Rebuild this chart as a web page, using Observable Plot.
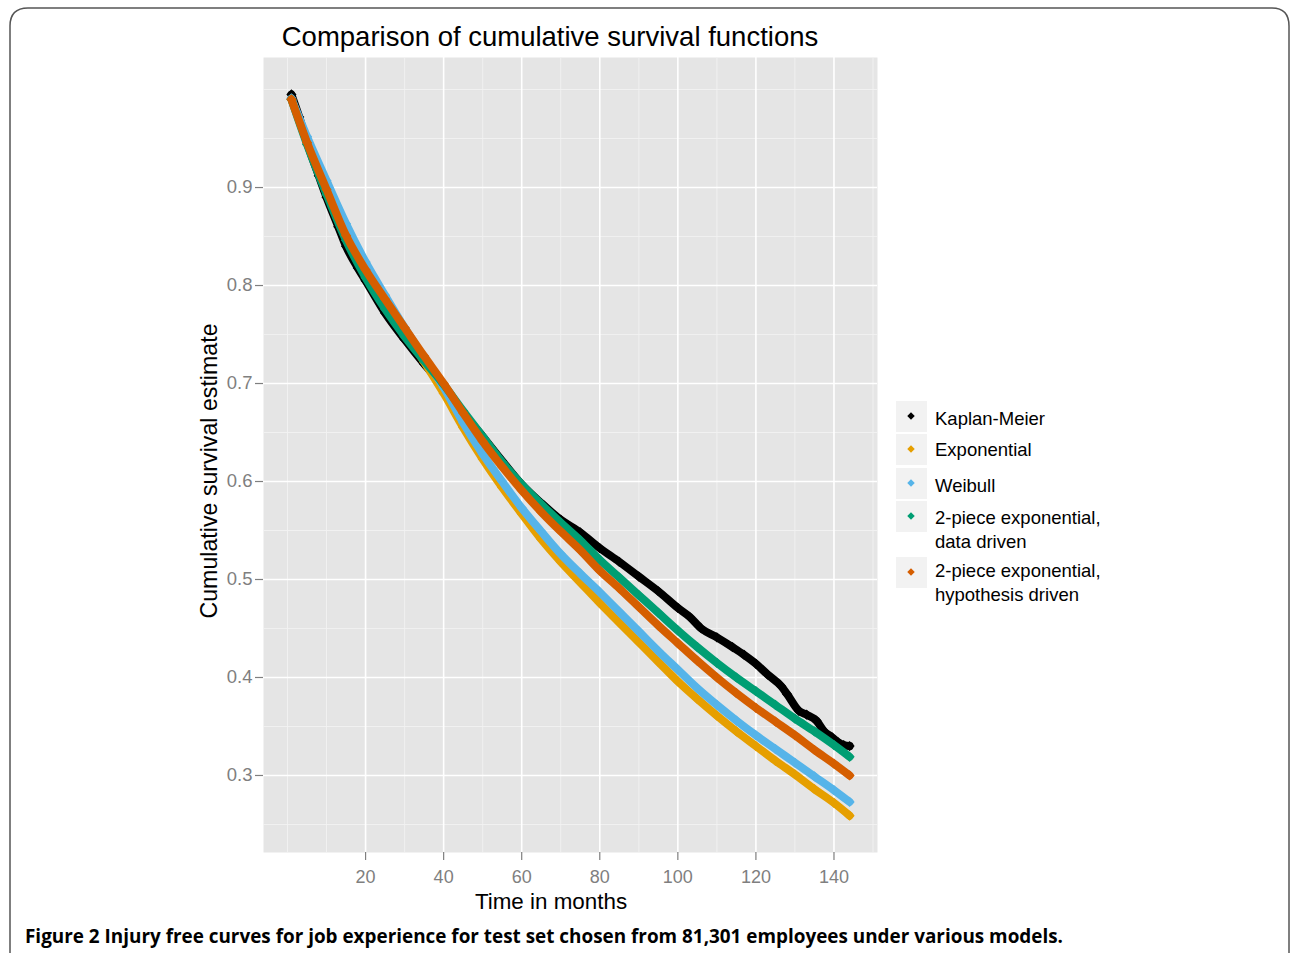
<!DOCTYPE html>
<html>
<head>
<meta charset="utf-8">
<script src="https://cdn.jsdelivr.net/npm/d3@7"></script>
<script src="https://cdn.jsdelivr.net/npm/@observablehq/plot@0.6"></script>
<style>
  html, body { margin: 0; padding: 0; background: #fff; }
  svg { display: block; }
</style>
</head>
<body>
<div id="chart"></div>
<script>
// ---------- data ----------
const modelTimes = [1, 5, 10, 15, 20, 25, 30, 35, 40, 45, 50, 55, 60, 65, 70, 75, 80, 85, 90, 95, 100, 105, 110, 115, 120, 125, 130, 135, 140, 144];
const exponentialValues = [0.990, 0.950, 0.905, 0.860, 0.822, 0.788, 0.754, 0.722, 0.690, 0.655, 0.623, 0.594, 0.567, 0.541, 0.518, 0.497, 0.476, 0.456, 0.436, 0.416, 0.396, 0.378, 0.361, 0.345, 0.330, 0.315, 0.301, 0.286, 0.272, 0.259];
const weibullValues     = [0.991, 0.952, 0.907, 0.863, 0.824, 0.790, 0.757, 0.726, 0.696, 0.660, 0.628, 0.600, 0.573, 0.549, 0.526, 0.506, 0.487, 0.467, 0.447, 0.427, 0.408, 0.389, 0.372, 0.356, 0.341, 0.327, 0.313, 0.299, 0.285, 0.273];
const pieceDataValues   = [0.990, 0.944, 0.893, 0.846, 0.808, 0.776, 0.748, 0.723, 0.699, 0.672, 0.646, 0.620, 0.597, 0.577, 0.558, 0.540, 0.520, 0.502, 0.484, 0.466, 0.448, 0.431, 0.415, 0.400, 0.386, 0.372, 0.358, 0.345, 0.331, 0.319];
const pieceHypValues    = [0.990, 0.946, 0.898, 0.851, 0.816, 0.786, 0.757, 0.728, 0.700, 0.670, 0.641, 0.615, 0.591, 0.569, 0.549, 0.530, 0.509, 0.491, 0.472, 0.453, 0.435, 0.417, 0.400, 0.384, 0.369, 0.355, 0.341, 0.326, 0.312, 0.300];
const kmTimes  = [1, 3, 5, 8, 10, 13, 15, 18, 20, 25, 30, 35, 40, 45, 50, 55, 60, 65, 70, 75, 80, 85, 90, 95, 100, 103, 106, 110, 114, 117, 120, 123, 126.5, 128, 131, 133, 135.5, 137.5, 139.5, 141, 142.5, 144];
const kmValues = [0.995, 0.972, 0.946, 0.912, 0.890, 0.860, 0.840, 0.818, 0.805, 0.772, 0.745, 0.720, 0.697, 0.670, 0.646, 0.621, 0.597, 0.578, 0.561, 0.548, 0.532, 0.518, 0.503, 0.488, 0.471, 0.462, 0.450, 0.441, 0.431, 0.423, 0.414, 0.403, 0.391, 0.383, 0.366, 0.362, 0.356, 0.345, 0.339, 0.334, 0.331, 0.330];

const seriesNames = ["Kaplan-Meier", "Exponential", "Weibull", "2-piece exponential, data driven", "2-piece exponential, hypothesis driven"];
const legendLines = [["Kaplan-Meier"], ["Exponential"], ["Weibull"], ["2-piece exponential,", "data driven"], ["2-piece exponential,", "hypothesis driven"]];
const seriesColors = ["#000000", "#E69F00", "#56B4E9", "#009E73", "#D55E00"];
const xTicks = [20, 40, 60, 80, 100, 120, 140];
const xMinor = [0, 10, 30, 50, 70, 90, 110, 130, 150];
const yTicks = [0.3, 0.4, 0.5, 0.6, 0.7, 0.8, 0.9];
const yMinor = [0.25, 0.35, 0.45, 0.55, 0.65, 0.75, 0.85, 0.95, 1.0];
const titleText = "Comparison of cumulative survival functions";
const xLabel = "Time in months";
const yLabel = "Cumulative survival estimate";
const captionBold = "Figure 2";
const captionRest = " Injury free curves for job experience for test set chosen from 81,301 employees under various models.";

// ---------- build table ----------
const seriesData = [
  {name: seriesNames[0], t: kmTimes, v: kmValues},
  {name: seriesNames[1], t: modelTimes, v: exponentialValues},
  {name: seriesNames[2], t: modelTimes, v: weibullValues},
  {name: seriesNames[3], t: modelTimes, v: pieceDataValues},
  {name: seriesNames[4], t: modelTimes, v: pieceHypValues}
].map((s, i) => ({name: s.name, color: seriesColors[i], rows: s.t.map((t, j) => ({series: s.name, t, v: s.v[j]}))}));

const W = 1290, H = 953;
const mL = 263, mR = W - 877, mT = 57, mB = H - 852;
const FONT = "'Liberation Sans', Arial, Helvetica, sans-serif";

const seriesMarks = seriesData.flatMap(s => [
  Plot.line(s.rows, {x: "t", y: "v", stroke: s.color, strokeWidth: 8, strokeLinecap: "round", strokeLinejoin: "round", curve: "monotone-x"}),
  Plot.dot(s.rows, {x: "t", y: "v", fill: s.color, symbol: "diamond2", r: 4.6, stroke: null})
]);

const chart = Plot.plot({
  width: W, height: H,
  marginLeft: mL, marginRight: mR, marginTop: mT, marginBottom: mB,
  x: {domain: [-6.15, 151.15]},
  y: {domain: [0.2214, 1.0327]},
  style: {fontFamily: FONT, background: "white", overflow: "visible"},
  marks: [
    Plot.frame({fill: "#E5E5E5", stroke: null}),
    Plot.gridX(xMinor, {stroke: "#F2F2F2", strokeOpacity: 1, strokeWidth: 0.9}),
    Plot.gridY(yMinor, {stroke: "#F2F2F2", strokeOpacity: 1, strokeWidth: 0.9}),
    Plot.gridX(xTicks, {stroke: "#FFFFFF", strokeOpacity: 1, strokeWidth: 1.6}),
    Plot.gridY(yTicks, {stroke: "#FFFFFF", strokeOpacity: 1, strokeWidth: 1.6}),
    Plot.axisX(xTicks, {tickSize: 8, tickPadding: 10, fontSize: 18, fill: "#7F7F7F", stroke: "#7F7F7F", strokeWidth: 1.2, label: null}),
    Plot.axisY(yTicks, {tickSize: 8, tickPadding: 3, fontSize: 18.5, fill: "#7F7F7F", stroke: "#7F7F7F", strokeWidth: 1.2, label: null, tickFormat: d => d.toFixed(1)}),
    ...seriesMarks
  ]
});

document.getElementById("chart").appendChild(chart);

// ---------- decorations: frame, titles, legend, caption ----------
const svg = d3.select(chart);

svg.append("path")
  .attr("d", `M10,${H} V26 Q10,8 28,8 H1272 Q1289,8 1289,26 V${H}`)
  .attr("fill", "none").attr("stroke", "#555").attr("stroke-width", 1.5);

svg.append("text")
  .attr("x", 550).attr("y", 46)
  .attr("text-anchor", "middle")
  .style("font-family", FONT).style("font-size", "27.5px").attr("fill", "#000")
  .text(titleText);

svg.append("text")
  .attr("x", 551).attr("y", 909)
  .attr("text-anchor", "middle")
  .style("font-family", FONT).style("font-size", "22.4px").attr("fill", "#000")
  .text(xLabel);

svg.append("text")
  .attr("transform", "translate(217,471) rotate(-90)")
  .attr("text-anchor", "middle")
  .style("font-family", FONT).style("font-size", "23.2px").attr("fill", "#000")
  .text(yLabel);

// legend
const boxTops = [401, 434, 468, 501, 557];
const firstBaselines = [425, 456, 492, 524, 577];
const lg = svg.append("g").attr("text-anchor", "start");
seriesNames.forEach((name, i) => {
  lg.append("rect").attr("x", 896).attr("y", boxTops[i]).attr("width", 31).attr("height", 31).attr("fill", "#F2F2F2");
  lg.append("path")
    .attr("transform", `translate(911,${boxTops[i] + 15})`)
    .attr("d", d3.symbol(d3.symbolDiamond2, 36)())
    .attr("fill", seriesColors[i]);
  legendLines[i].forEach((line, k) => {
    lg.append("text")
      .attr("x", 935).attr("y", firstBaselines[i] + k * 24)
      .attr("text-anchor", "start")
      .style("font-family", FONT).style("font-size", "18.5px").attr("fill", "#000")
      .text(line);
  });
});

// caption
const cap = svg.append("text")
  .attr("x", 25).attr("y", 943)
  .attr("text-anchor", "start")
  .attr("textLength", 1038).attr("lengthAdjust", "spacingAndGlyphs")
  .style("font-family", "'Open Sans', 'Noto Sans', sans-serif").style("font-size", "19px").style("font-weight", "700")
  .attr("fill", "#000");
cap.append("tspan").text(captionBold);
cap.append("tspan").text(captionRest);
</script>
</body>
</html>
